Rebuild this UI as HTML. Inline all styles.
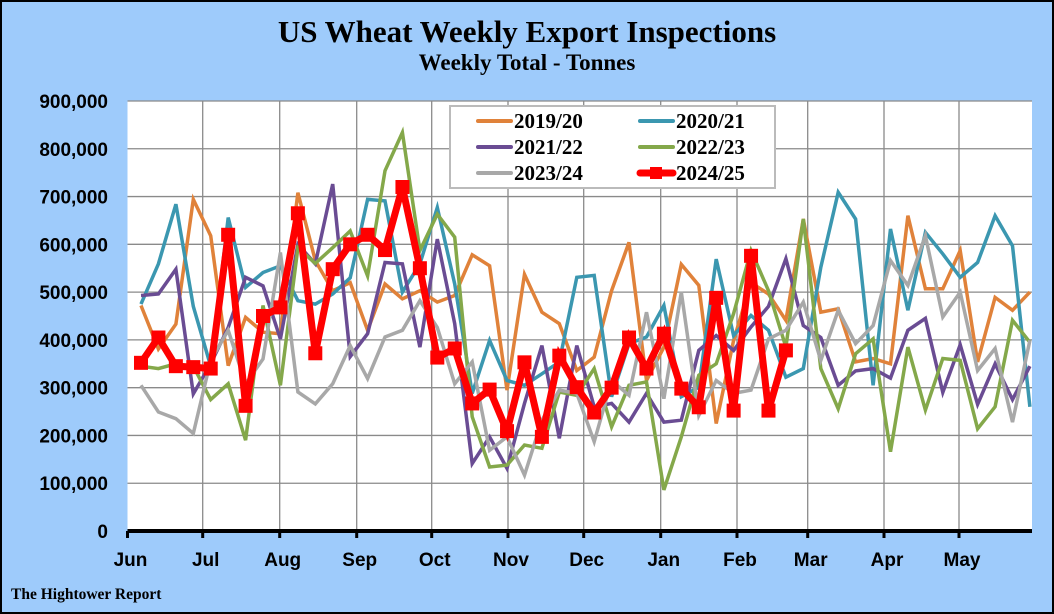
<!DOCTYPE html>
<html><head><meta charset="utf-8"><style>
html,body{margin:0;padding:0;}
body{width:1054px;height:614px;overflow:hidden;background:#9ecbfb;}
svg{display:block;}
</style></head><body>
<svg width="1054" height="614" xmlns="http://www.w3.org/2000/svg">
<rect x="1" y="1" width="1052" height="612" fill="#9ecbfb" stroke="#000" stroke-width="2"/>
<text x="527" y="42" text-anchor="middle" font-family="Liberation Serif, serif" font-weight="bold" font-size="31" fill="#000">US Wheat Weekly Export Inspections</text>
<text x="527" y="70" text-anchor="middle" font-family="Liberation Serif, serif" font-weight="bold" font-size="23" fill="#000">Weekly Total - Tonnes</text>
<rect x="127.5" y="101" width="904.5" height="430" fill="#fff"/>
<g id="grid"></g>
<g id="yticks"></g>
<g id="xticks"></g>
<g id="series"></g>
<g>
<rect x="450" y="106" width="325" height="82" fill="#fff" stroke="#bbb" stroke-width="2"/>
<g id="legend"></g>
</g>
<text x="11" y="599" font-family="Liberation Serif, serif" font-weight="bold" font-size="15.5" fill="#000">The Hightower Report</text>
</svg>
<script>
const months = ["Jun","Jul","Aug","Sep","Oct","Nov","Dec","Jan","Feb","Mar","Apr","May"];
const monthX = [127.5,202.7,279.7,356.7,431.7,508,583.7,660.7,737,807.7,884,959];
const yTicks = [0,100000,200000,300000,400000,500000,600000,700000,800000,900000];
const seriesNames = ["2019/20","2020/21","2021/22","2022/23","2023/24","2024/25"];
const s1920 = [472,381,433,694,618,346,447,416,413,708,566,503,520,420,517,486,503,479,493,578,555,295,537,458,434,336,364,503,604,315,385,558,514,225,399,520,496,441,653,458,465,354,361,350,660,507,507,587,354,489,462,500];
const s2021 = [475,559,684,470,345,656,510,541,555,482,475,496,530,694,691,500,559,677,517,288,399,315,305,329,354,531,535,281,392,406,472,281,301,569,409,451,420,322,340,552,709,653,305,632,462,625,580,531,562,660,597,260];
const s2122 = [493,496,548,287,350,426,531,513,402,600,559,726,365,413,562,559,385,611,434,141,197,131,267,388,194,388,260,267,228,288,228,232,378,409,378,427,470,570,430,405,305,335,340,320,420,445,290,390,265,350,275,345];
const s2223 = [345,340,350,345,275,308,190,472,305,593,560,593,628,534,754,834,587,663,615,239,134,138,180,173,291,284,340,218,305,312,86,197,326,350,455,587,503,385,653,340,256,371,402,166,385,253,361,357,214,260,441,395];
const s2324 = [305,249,235,204,357,420,308,360,583,291,266,308,388,319,406,420,482,426,308,354,169,197,117,232,295,288,187,315,284,458,277,500,242,315,288,295,402,420,479,357,462,392,430,566,514,618,448,500,336,382,228,399];
const s2425 = [352,405,345,343,340,620,262,450,468,665,372,548,600,620,588,720,550,363,382,267,296,209,353,197,367,301,248,300,405,340,413,298,259,488,252,576,252,378];
const allSeries = [s1920,s2021,s2122,s2223,s2324,s2425];
const colors = ["#e0823a","#3b97b0","#6a4c93","#84a84a","#a8a8a8","#ff0000"];
const NS="http://www.w3.org/2000/svg";
const X0=141, DX=17.43, YB=531, YT=101, YMAX=900;
function xs(i){return X0+i*DX;}
function ys(v){return YB-(v/YMAX)*(YB-YT);}
function mk(tag,attrs,parent){const e=document.createElementNS(NS,tag);for(const k in attrs)e.setAttribute(k,attrs[k]);parent.appendChild(e);return e;}
const grid=document.getElementById('grid'), yt=document.getElementById('yticks'), xt=document.getElementById('xticks'), sg=document.getElementById('series'), lg=document.getElementById('legend');
yTicks.forEach(t=>{
  const y=ys(t/1000);
  if(t>0){const l=mk('line',{x1:127.5,x2:1032,y1:y,y2:y,stroke:'#8a8a8a','stroke-width':1.3},grid);
  
  }
  const tx=mk('text',{x:108,y:y+7,'text-anchor':'end','font-family':'Liberation Sans, sans-serif','font-weight':'bold','font-size':19,fill:'#000'},yt);
  tx.textContent=t.toLocaleString('en-US');
  
  
});
monthX.forEach((x,i)=>{
  if(i>0){const l=mk('line',{x1:x,x2:x,y1:101,y2:531,stroke:'#8a8a8a','stroke-width':1.3},grid);
  
  }
  const tk=mk('line',{x1:x,x2:x,y1:531,y2:538,stroke:'#000','stroke-width':3},xt);
  
  
  const tx=mk('text',{x:x+3,y:566,'text-anchor':'middle','font-family':'Liberation Sans, sans-serif','font-weight':'bold','font-size':19,fill:'#000'},xt);
  tx.textContent=months[i];
  
  
});
const ax=mk('line',{x1:127.5,x2:1032,y1:531,y2:531,stroke:'#000','stroke-width':4},xt);


allSeries.forEach((d,si)=>{
  const pts=d.map((v,i)=>xs(i).toFixed(1)+','+ys(v).toFixed(1)).join(' ');
  const red=si===5;
  const pl=mk('polyline',{points:pts,fill:'none',stroke:colors[si],'stroke-width':red?7:3.5,'stroke-linejoin':'miter'},sg);
  
  
  if(red){d.forEach((v,i)=>{
    const r=mk('rect',{x:xs(i)-7,y:ys(v)-7,width:14,height:14,fill:'#ff0000'},sg);
    
    
  });}
});
seriesNames.forEach((n,i)=>{
  const col=i%2, row=Math.floor(i/2);
  const lx=col?640:478, ly=121+row*26;
  const l=mk('line',{x1:lx,x2:lx+33,y1:ly,y2:ly,stroke:colors[i],'stroke-width':i===5?7:4,'stroke-linecap':'round'},lg);
  
  
  if(i===5){const r=mk('rect',{x:lx+10,y:ly-6,width:12,height:12,fill:'#ff0000'},lg);
  
  }
  const t=mk('text',{x:lx+36,y:ly+7,'font-family':'Liberation Serif, serif','font-weight':'bold','font-size':21,fill:'#000'},lg);
  t.textContent=n;
  
  
});
</script>
</body></html>
